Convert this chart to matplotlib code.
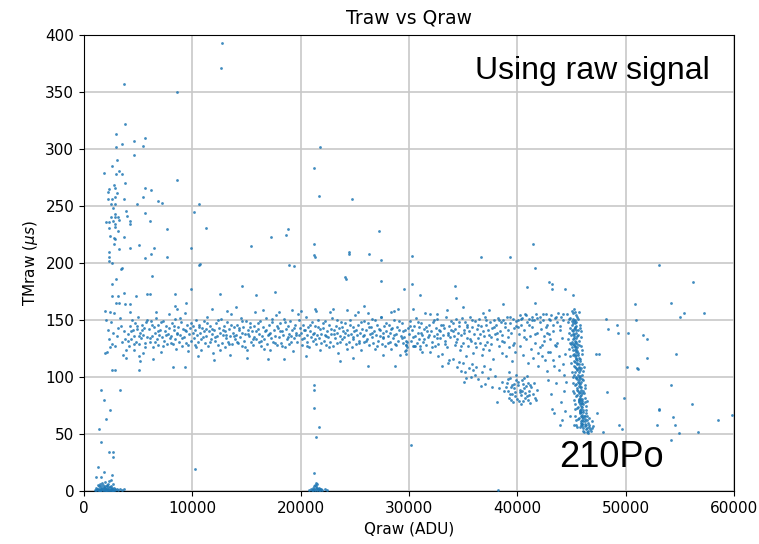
import matplotlib
matplotlib.use("Agg")
import matplotlib.pyplot as plt
import numpy as np

# ---- event data: (Qraw [ADU], TMraw [us]) ----

# low-charge events piled near T = 0
low_cluster = [
    (1000, 1), (1150, 3), (1250, 0.5), (1300, 2), (1400, 4), (1450, 1), (1500, 6), (1550, 2),
    (1600, 0.5), (1650, 3), (1700, 1.5), (1750, 5), (1800, 0.5), (1850, 2.5), (1900, 1),
    (1950, 4), (2000, 2), (2050, 0.5), (2100, 3), (2150, 1), (2200, 6), (2250, 2), (2300, 0.5),
    (2350, 3.5), (2400, 1), (2450, 2), (2500, 4.5), (2550, 0.5), (2600, 2.5), (2700, 1),
    (2800, 3), (2900, 0.5), (3000, 2), (3100, 1), (3300, 1.5), (3500, 0.5), (3700, 2),
    (1350, 0.5), (1200, 1.5), (1100, 0.8), (1700, 7), (1900, 8), (2300, 9), (2100, 5),
    (2700, 6), (1600, 4), (1250, 5), (2400, 3.5), (2650, 0.3), (2850, 1.8), (1520, 0.3),
    (1820, 3.8), (2020, 0.6), (2220, 1.2), (2480, 0.9), (1480, 2.8), (1980, 2.2), (1780, 0.9),
    (2120, 4.2), (2580, 1.7),
]

low_tail = [
    (1540, 89), (3290, 89), (1860, 80), (2410, 71), (2070, 63), (1420, 54), (1540, 43),
    (2310, 34), (2650, 34), (2650, 30), (1290, 21), (1850, 17), (1130, 12), (1560, 12),
    (2580, 14), (2490, 10),
]

# long drift-time plume at low charge
plume = [
    (3700, 357), (3800, 322), (2950, 313), (3500, 304), (2950, 302), (4590, 307), (5660, 310),
    (5450, 303), (4590, 295), (3050, 290), (2620, 285), (1850, 279), (2930, 278), (3250, 281),
    (3530, 278), (2770, 268), (2850, 266), (3810, 270), (5660, 266), (6210, 264), (2200, 262),
    (2300, 265), (2900, 258), (3000, 261), (5450, 258), (2230, 256), (2590, 256), (3700, 256),
    (6830, 254), (7170, 253), (2500, 252), (2860, 252), (4880, 252), (2860, 243), (4000, 241),
    (5660, 244), (2500, 240), (2900, 240), (3150, 240), (4250, 237), (6060, 237), (2000, 236),
    (2300, 236), (2700, 237), (2900, 234), (3200, 238), (2850, 232), (4250, 234), (2300, 231),
    (7690, 230), (2370, 224), (3700, 223), (2750, 222), (2870, 221), (2800, 217), (3260, 212),
    (4260, 213), (5100, 216), (6490, 213), (6210, 208), (2350, 210), (2350, 205), (2300, 202),
    (2550, 200), (5660, 204), (7690, 205), (3460, 195), (3900, 246), (3100, 228), (2650, 248),
]

# column of events near Q ~ 21500
mid_column = [
    (21810, 302), (21230, 283), (21690, 259), (21230, 217), (21260, 207), (21300, 205),
    (21230, 93), (21230, 89), (21230, 73), (21690, 56), (21450, 47), (21260, 16),
    (20800, 1), (20950, 2), (21050, 0.5), (21150, 3), (21250, 1.5), (21300, 5), (21350, 0.5),
    (21400, 2.5), (21450, 4), (21500, 1), (21550, 6), (21600, 2), (21650, 0.5), (21700, 3),
    (21800, 1), (21900, 2), (22000, 0.5), (22200, 1.5), (22400, 0.5), (21100, 1), (21380, 7),
    (21520, 3), (21750, 1.5), (21200, 4),
]

# main horizontal band, TMraw ~ 120-160
band = [
    (1900, 121), (2100, 122), (2300, 133), (2500, 148), (2700, 139), (2900, 127), (3100, 143),
    (3300, 152), (3500, 131), (3700, 140), (3900, 124), (2200, 141), (2600, 129), (3000, 136),
    (3400, 145), (3800, 133), (2000, 150), (2800, 156), (3600, 119), (2400, 126),
    (4050, 138), (4150, 127), (4230, 145), (4310, 133), (4420, 150), (4480, 141), (4570, 124),
    (4660, 136), (4740, 147), (4810, 131), (4900, 142), (4990, 153), (5060, 129), (5140, 139),
    (5230, 134), (5320, 146), (5400, 121), (5480, 137), (5570, 143), (5660, 130), (5750, 148),
    (5860, 135),
    (6030, 142), (6110, 131), (6190, 149), (6280, 136), (6360, 126), (6450, 144), (6530, 139),
    (6620, 152), (6700, 133), (6790, 128), (6870, 146), (6960, 137), (7040, 141), (7130, 122),
    (7210, 135), (7300, 149), (7380, 132), (7470, 140), (7560, 145), (7640, 129), (7730, 138),
    (7820, 155), (7910, 134),
    (8020, 136), (8100, 147), (8190, 129), (8270, 141), (8360, 133), (8440, 151), (8530, 125),
    (8610, 139), (8700, 144), (8780, 131), (8870, 137), (8950, 148), (9040, 127), (9120, 142),
    (9210, 135), (9290, 156), (9380, 130), (9460, 140), (9550, 146), (9630, 123), (9720, 138),
    (9810, 143), (9900, 132),
    (10030, 145), (10110, 134), (10200, 128), (10280, 141), (10370, 150), (10450, 137),
    (10540, 131), (10620, 146), (10710, 139), (10790, 124), (10880, 143), (10960, 135),
    (11050, 149), (11130, 130), (11220, 142), (11300, 136), (11390, 153), (11470, 127),
    (11560, 140), (11640, 145), (11730, 133), (11810, 138), (11900, 121),
    (12040, 141), (12120, 132), (12210, 147), (12290, 136), (12380, 128), (12460, 143),
    (12550, 139), (12630, 151), (12720, 130), (12800, 137), (12890, 145), (12970, 126),
    (13060, 140), (13140, 134), (13230, 148), (13310, 131), (13400, 142), (13480, 136),
    (13570, 155), (13650, 129), (13740, 139), (13820, 144), (13910, 133),
    (14030, 137), (14120, 146), (14200, 130), (14290, 141), (14370, 135), (14460, 152),
    (14540, 127), (14630, 139), (14710, 144), (14800, 132), (14880, 138), (14970, 149),
    (15050, 124), (15140, 141), (15220, 136), (15310, 147), (15390, 131), (15480, 140),
    (15560, 128), (15650, 145), (15730, 135), (15820, 157), (15900, 133),
    (16020, 142), (16110, 131), (16190, 138), (16280, 149), (16360, 127), (16450, 136),
    (16530, 144), (16620, 133), (16700, 140), (16790, 152), (16870, 129), (16960, 137),
    (17040, 146), (17130, 124), (17210, 139), (17300, 134), (17380, 148), (17470, 131),
    (17550, 141), (17640, 136), (17720, 154), (17810, 128), (17890, 143),
    (18030, 135), (18110, 147), (18200, 130), (18280, 140), (18370, 137), (18450, 151),
    (18540, 126), (18620, 142), (18710, 133), (18790, 145), (18880, 138), (18960, 129),
    (19050, 149), (19130, 136), (19220, 141), (19300, 123), (19390, 134), (19470, 146),
    (19560, 139), (19640, 131), (19730, 155), (19810, 137), (19900, 143),
    (20040, 139), (20120, 128), (20210, 146), (20290, 134), (20380, 141), (20460, 153),
    (20550, 131), (20630, 137), (20720, 144), (20800, 126), (20890, 140), (20970, 135),
    (21060, 148), (21140, 132), (21230, 139), (21310, 145), (21400, 129), (21480, 137),
    (21570, 150), (21650, 134), (21740, 142), (21820, 124), (21910, 138),
    (22030, 143), (22120, 132), (22200, 137), (22290, 149), (22370, 128), (22460, 140),
    (22540, 135), (22630, 146), (22710, 131), (22800, 138), (22880, 152), (22970, 127),
    (23050, 141), (23140, 134), (23220, 145), (23310, 130), (23390, 139), (23480, 121),
    (23560, 143), (23650, 136), (23730, 148), (23820, 133), (23900, 140),
    (24020, 135), (24110, 147), (24190, 129), (24280, 141), (24360, 137), (24450, 131),
    (24530, 150), (24620, 138), (24700, 126), (24790, 144), (24870, 133), (24960, 140),
    (25040, 154), (25130, 129), (25210, 137), (25300, 146), (25380, 132), (25470, 139),
    (25550, 124), (25640, 142), (25720, 136), (25810, 149), (25890, 131),
    (26030, 141), (26110, 133), (26200, 147), (26280, 128), (26370, 138), (26450, 144),
    (26540, 135), (26620, 151), (26710, 130), (26790, 140), (26880, 125), (26960, 137),
    (27050, 146), (27130, 132), (27220, 142), (27300, 136), (27390, 153), (27470, 129),
    (27560, 139), (27640, 134), (27730, 145), (27810, 127), (27900, 140),
    (28040, 136), (28120, 146), (28210, 131), (28290, 139), (28380, 125), (28460, 143),
    (28550, 134), (28630, 150), (28720, 129), (28800, 138), (28890, 144), (28970, 132),
    (29060, 141), (29140, 119), (29230, 136), (29310, 147), (29400, 130), (29480, 140),
    (29570, 135), (29650, 123), (29740, 128), (29820, 126), (29910, 143),
    (30030, 138), (30110, 149), (30200, 132), (30280, 141), (30370, 127), (30450, 145),
    (30540, 136), (30620, 152), (30710, 130), (30790, 139), (30880, 144), (30960, 133),
    (31050, 125), (31130, 147), (31220, 137), (31300, 131), (31390, 142), (31470, 156),
    (31560, 128), (31640, 140), (31730, 135), (31810, 146), (31900, 122),
    (32030, 140), (32120, 131), (32200, 148), (32290, 136), (32370, 127), (32460, 143),
    (32540, 138), (32630, 151), (32710, 129), (32800, 141), (32880, 134), (32970, 146),
    (33050, 120), (33140, 137), (33220, 143), (33310, 132), (33390, 153), (33480, 126),
    (33560, 139), (33650, 145), (33730, 115), (33820, 135), (33900, 141),
    (34030, 147), (34120, 136), (34200, 128), (34290, 142), (34370, 151), (34460, 133),
    (34540, 139), (34630, 145), (34710, 124), (34800, 137), (34880, 152), (34970, 130),
    (35050, 141), (35140, 148), (35220, 118), (35310, 134), (35390, 146), (35480, 127),
    (35560, 140), (35650, 153), (35730, 132), (35820, 144), (35900, 121),
    (36030, 138), (36120, 149), (36200, 126), (36290, 142), (36370, 134), (36460, 151),
    (36540, 130), (36630, 145), (36710, 119), (36800, 140), (36880, 136), (36970, 153),
    (37050, 128), (37140, 146), (37220, 131), (37310, 141), (37390, 124), (37480, 148),
    (37560, 135), (37650, 143), (37730, 116), (37820, 150), (37900, 138),
    (38030, 146), (38120, 133), (38200, 152), (38290, 127), (38370, 140), (38460, 148),
    (38540, 121), (38630, 137), (38710, 150), (38800, 131), (38880, 144), (38970, 118),
    (39050, 153), (39140, 135), (39220, 126), (39310, 147), (39390, 139), (39480, 114),
    (39560, 151), (39650, 130), (39730, 143), (39820, 122), (39900, 149),
    (40030, 150), (40120, 138), (40200, 154), (40290, 127), (40370, 146), (40460, 152),
    (40540, 119), (40630, 141), (40710, 155), (40800, 133), (40880, 148), (40970, 112),
    (41050, 151), (41140, 136), (41220, 125), (41310, 153), (41390, 144), (41480, 117),
    (41560, 150), (41650, 130), (41730, 155), (41820, 139), (41900, 121),
    (42050, 153), (42150, 142), (42250, 128), (42350, 150), (42450, 136), (42550, 115),
    (42650, 155), (42750, 146), (42850, 122), (42950, 151), (43050, 133), (43150, 154),
    (43250, 140), (43350, 110), (43450, 152), (43550, 127), (43650, 148), (43750, 156),
    (43850, 118), (43950, 145), (44050, 153), (44150, 134), (44250, 150), (44350, 102),
]

band_fill = [
    (4100, 132), (4350, 140), (4600, 129), (4850, 145), (5100, 136), (5350, 141), (5600, 126),
    (5850, 150), (6070, 134), (6320, 146), (6570, 131), (6820, 140), (7080, 148), (7330, 127),
    (7590, 137), (7850, 143), (8060, 130), (8310, 145), (8570, 138), (8820, 152), (9080, 134),
    (9330, 141), (9590, 128), (9850, 147), (10070, 139), (10320, 126), (10580, 144),
    (10830, 133), (11090, 140), (11340, 147), (11600, 131), (11850, 142), (12080, 135),
    (12330, 150), (12590, 124), (12840, 141), (13100, 137), (13350, 129), (13610, 146),
    (13870, 136), (14080, 131), (14330, 143), (14590, 149), (14840, 126), (15100, 138),
    (15350, 144), (15610, 133), (15860, 140), (16070, 147), (16320, 132), (16580, 125),
    (16830, 141), (17090, 138), (17340, 151), (17600, 130), (17850, 145), (18070, 140),
    (18320, 127), (18580, 148), (18830, 135), (19090, 131), (19340, 143), (19600, 137),
    (19850, 150), (20080, 133), (20330, 141), (20590, 127), (20840, 146), (21100, 138),
    (21350, 133), (21610, 144), (21860, 130), (22070, 147), (22330, 136), (22580, 126),
    (22840, 142), (23100, 138), (23350, 150), (23610, 131), (23860, 144), (24070, 139),
    (24320, 125), (24580, 146), (24830, 135), (25090, 141), (25340, 130), (25600, 148),
    (25850, 137), (26070, 132), (26320, 144), (26580, 139), (26830, 150), (27090, 127),
    (27340, 141), (27600, 135), (27850, 147), (28080, 130), (28330, 142), (28590, 137),
    (28840, 128), (29100, 149), (29350, 134), (29610, 141), (29860, 131), (30070, 145),
    (30330, 135), (30580, 127), (30840, 148), (31090, 139), (31340, 133), (31600, 144),
    (31850, 137), (32080, 126), (32330, 150), (32590, 134), (32840, 140), (33100, 146),
    (33350, 129), (33610, 137), (33860, 149), (34080, 140), (34330, 131), (34590, 148),
    (34840, 127), (35100, 139), (35350, 144), (35610, 133), (35860, 150), (36080, 130),
    (36330, 146), (36590, 138), (36840, 125), (37100, 150), (37350, 137), (37610, 129),
    (37860, 144), (38080, 139), (38330, 150), (38590, 132), (38840, 147), (39100, 141),
    (39350, 153), (39610, 128), (39860, 145), (40080, 144), (40330, 151), (40590, 135),
    (40840, 154), (41100, 146), (41350, 150), (41610, 138), (41860, 152), (42100, 148),
    (42400, 155), (42700, 139), (43000, 150), (43300, 146), (43600, 153), (43900, 141),
    (44200, 155),
]

band_outliers = [
    (2600, 106), (2850, 106), (5120, 106), (8250, 109), (9350, 109), (3900, 117), (5100, 118),
    (5200, 114), (23630, 114), (26190, 110), (28700, 110), (29700, 120), (29700, 124),
    (29750, 128), (29700, 132), (30500, 127), (31000, 127), (31200, 122), (15000, 117),
    (12000, 115), (18500, 116), (20500, 118), (24800, 117), (27600, 119), (6400, 116),
    (10500, 118), (13500, 119), (17000, 116),
    (2620, 182), (2990, 186), (3480, 196), (6310, 189), (2620, 171), (3170, 171), (3690, 174),
    (4770, 171), (5800, 173), (6100, 173), (8400, 173), (9850, 177), (2920, 165), (3200, 165),
    (3790, 164), (4290, 164), (1970, 158), (2370, 157), (4290, 157), (6670, 157), (8400, 162),
    (8630, 160), (9390, 165), (19230, 159), (24300, 159), (21320, 160), (21400, 158),
    (22670, 157), (25300, 157), (26200, 156), (27400, 153), (28300, 157), (28600, 158),
    (30400, 160), (31900, 155), (32600, 155), (36860, 156), (11800, 160), (13200, 158),
    (16500, 159), (14000, 161), (18000, 157), (20000, 158), (23000, 160), (25800, 162),
    (29000, 160), (33500, 159), (35000, 161), (37400, 159),
]

# events drifting below the band above 33000 ADU
slope = [
    (32700, 118), (33000, 110), (34400, 109), (34800, 105), (35000, 112), (35200, 104),
    (35500, 108), (35700, 100), (35900, 106), (36100, 102), (36200, 109), (35300, 99),
    (34600, 113), (35800, 111), (36400, 98), (36700, 104), (37000, 94), (37300, 99),
    (37700, 91), (38090, 78), (38300, 90), (38600, 96), (37900, 101), (34100, 116),
    (33600, 112), (36900, 110), (35100, 96), (36600, 92), (37500, 107), (38800, 88),
]

cluster_40k = [
    (39000, 95), (39100, 88), (39200, 82), (39300, 99), (39400, 91), (39500, 85), (39600, 78),
    (39700, 94), (39800, 87), (39900, 102), (40000, 81), (40100, 93), (40200, 89), (40300, 84),
    (40400, 97), (40500, 79), (40600, 90), (40700, 86), (40800, 92), (40900, 83), (41000, 95),
    (41100, 88), (41200, 77), (41300, 91), (41400, 85), (41600, 82), (41800, 89), (39250, 104),
    (39650, 90), (40050, 96), (40350, 76), (40650, 99), (40950, 80), (39450, 80), (39850, 97),
    (40250, 87), (40750, 82), (41150, 93), (39550, 93), (40450, 88), (41050, 84), (39150, 98),
    (40850, 101), (41500, 95), (39350, 85), (39750, 83), (40150, 79), (40550, 94), (38950, 91),
    (41700, 80),
]

approach_po = [
    (41900, 110), (42100, 126), (42300, 118), (42500, 132), (42700, 105), (42800, 97),
    (43000, 122), (43100, 85), (43300, 115), (43500, 128), (43200, 72), (43400, 68),
    (43600, 95), (43800, 106), (44000, 78), (44100, 62), (44300, 88), (44400, 120),
    (43700, 130), (44200, 111), (42900, 138), (42600, 144), (43900, 58), (44400, 70),
    (44500, 96), (45200, 58), (44900, 66), (45400, 62),
]

# 210Po alpha line
po210 = [
    (44900, 152), (45100, 156), (45300, 150), (45000, 158), (45400, 154), (44800, 151),
    (45200, 160), (45500, 153), (45050, 149), (45350, 157),
    (45000, 146), (45200, 142), (45400, 148), (45100, 140), (45300, 144), (44900, 143),
    (45600, 141), (45250, 149), (45450, 145), (45150, 147), (45050, 141), (45350, 143),
    (45100, 138), (45300, 132), (45500, 136), (45200, 134), (45400, 139), (45000, 131),
    (45600, 137), (45350, 130), (45250, 136), (45150, 133), (45450, 134), (44950, 137),
    (45700, 132),
    (45200, 128), (45400, 122), (45300, 126), (45500, 129), (45100, 124), (45600, 121),
    (45350, 127), (45250, 120), (45450, 125), (45150, 129), (45550, 123), (45050, 126),
    (45700, 128),
    (45300, 118), (45500, 112), (45400, 116), (45600, 119), (45200, 114), (45700, 111),
    (45350, 113), (45450, 117), (45550, 115), (45250, 110), (45650, 117), (45100, 119),
    (45800, 114),
    (45400, 108), (45600, 102), (45500, 106), (45700, 109), (45300, 104), (45800, 101),
    (45450, 100), (45550, 107), (45650, 104), (45350, 109), (45750, 106), (45200, 102),
    (45900, 108),
    (45500, 98), (45700, 92), (45600, 96), (45800, 99), (45400, 94), (45900, 91), (45550, 90),
    (45650, 97), (45750, 94), (45450, 99), (45850, 96), (45300, 93), (46000, 98),
    (45600, 88), (45800, 82), (45700, 86), (45900, 89), (45500, 84), (46000, 81), (45650, 80),
    (45750, 87), (45850, 84), (45550, 89), (45950, 86), (45400, 83), (46100, 88), (45700, 81),
    (45700, 78), (45900, 72), (45800, 76), (46000, 79), (45600, 74), (46100, 71), (45750, 70),
    (45850, 77), (45950, 74), (45650, 79), (46050, 76), (45500, 73), (46200, 78), (45800, 71),
    (45900, 75),
    (45800, 68), (46000, 62), (45900, 66), (46100, 69), (45700, 64), (46200, 61), (45850, 60),
    (45950, 67), (46050, 64), (45750, 69), (46150, 66), (45600, 63), (46300, 68), (46000, 65),
    (45900, 61), (46250, 63), (46400, 62),
    (45900, 58), (46100, 55), (46000, 57), (46200, 59), (45800, 56), (46300, 54), (46150, 52),
    (46050, 53), (46250, 57), (46400, 55), (46500, 53), (46600, 56), (46700, 54), (45950, 59),
    (46350, 58), (46450, 52), (46550, 51), (46800, 53),
]

po210_edges = [
    (44700, 148), (45600, 151), (45700, 157), (44600, 155), (45800, 146),
    (44750, 139), (45750, 143), (45850, 135), (44700, 133), (45900, 140), (44850, 130),
    (44800, 125), (45850, 127), (45950, 120), (44900, 118), (46000, 124), (44950, 129),
    (45800, 116), (44950, 112), (46000, 111), (46100, 105), (45000, 104), (46150, 109),
    (45100, 100), (46000, 102), (45100, 95), (46100, 97), (46200, 90), (45150, 88),
    (46250, 93), (45200, 86), (46150, 86), (45250, 80), (46250, 82), (46350, 75), (45300, 72),
    (46400, 79), (45350, 76), (46300, 71), (45350, 66), (46450, 66), (46550, 60), (45400, 58),
    (46600, 64), (45500, 56), (46650, 58), (46900, 55), (47000, 57), (46850, 61),
    (45300, 147), (45150, 151), (45400, 141), (45250, 138), (45350, 124), (45450, 119),
    (45550, 111), (45650, 100), (45700, 95), (45750, 83), (45850, 80), (45900, 69),
    (46000, 59), (46100, 61), (46200, 66), (45950, 77), (45800, 91), (45650, 108),
    (45500, 126), (45450, 131),
]

# isolated events
sparse = [
    (8600, 350), (12700, 393), (12600, 371), (8610, 273), (10640, 252), (10150, 245),
    (11220, 231), (9900, 213), (10640, 198), (15380, 215), (17230, 223), (18620, 225),
    (18830, 230), (18920, 198), (19380, 197), (24740, 256), (27260, 228), (24430, 208),
    (24480, 210), (26280, 208), (27390, 203), (30300, 206), (36610, 205), (39350, 205),
    (41400, 217), (41660, 196), (53100, 198), (10250, 19), (30180, 40), (38250, 1),
    (24090, 188), (24150, 186), (27390, 184), (29570, 177), (30310, 182), (31040, 172),
    (34210, 180), (34310, 169), (14610, 180), (12560, 173), (15910, 172), (17660, 175),
    (10680, 199), (42950, 183), (43180, 182), (40890, 179), (56240, 183), (50890, 164),
    (54180, 165), (55380, 156), (55010, 153), (57230, 156), (50980, 150), (51990, 117),
    (54610, 120), (50150, 109), (51000, 108), (51100, 107), (54180, 93), (56120, 76),
    (53040, 72), (53100, 71), (54400, 65), (54520, 58), (52860, 58), (54890, 51), (56700, 52),
    (54180, 45), (58520, 62), (59780, 67), (49840, 82), (48300, 87), (43200, 177),
    (44370, 177), (45130, 172), (41660, 165), (38700, 164), (48180, 151), (48400, 142),
    (49170, 146), (49320, 139), (50240, 139), (51560, 137), (51990, 133), (47290, 120),
    (47500, 120), (47320, 68), (47930, 52), (49380, 58), (49630, 54),
]

groups = [low_cluster, low_tail, plume, mid_column, band, band_fill, band_outliers, slope,
          cluster_40k, approach_po, po210, po210_edges, sparse]
pts = np.array([p for g in groups for p in g], dtype=float)
qraw, traw = pts[:, 0], pts[:, 1]

fig = plt.figure(figsize=(7.59, 5.44), dpi=100)
ax = fig.add_axes([84 / 759, 53 / 544, 650 / 759, 456 / 544])

ax.scatter(qraw, traw, s=4, color="#1f77b4", linewidths=0, alpha=0.85, zorder=3)

ax.set_xlim(0, 60000)
ax.set_ylim(0, 400)
ax.set_xticks(np.arange(0, 60001, 10000))
ax.set_yticks(np.arange(0, 401, 50))
ax.tick_params(labelsize=11)
ax.grid(True, color="#c8c8c8", linewidth=1.2)
ax.set_axisbelow(True)

ax.set_title("Traw vs Qraw", fontsize=13.5, pad=8)
ax.set_xlabel("Qraw (ADU)", fontsize=11)
ax.set_ylabel(r"TMraw ($\mu s$)", fontsize=11)

ax.text(36100, 361, "Using raw signal", fontsize=23, family="Liberation Sans",
        ha="left", va="baseline")
ax.text(43850, 21, "210Po", fontsize=26, family="Liberation Sans",
        ha="left", va="baseline")

fig.savefig("out.png", dpi=100)
